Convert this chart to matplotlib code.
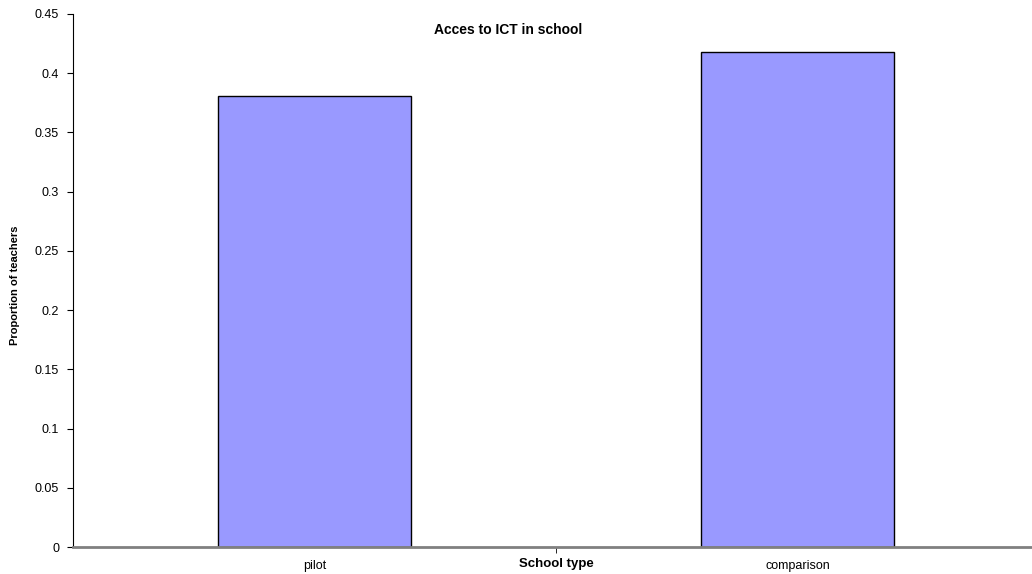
import numpy as np
import matplotlib.pyplot as plt

plt.rcParams['font.family'] = ['Liberation Sans', 'DejaVu Sans']

categories = ['pilot', 'comparison']
proportions = [0.381, 0.418]
yticks = [0, 0.05, 0.1, 0.15, 0.2, 0.25, 0.3, 0.35, 0.4, 0.45]
ytick_labels = ['0', '0.05', '0.1', '0.15', '0.2', '0.25', '0.3', '0.35', '0.4', '0.45']

fig = plt.figure(figsize=(10.32, 5.74), dpi=100)
ax = fig.add_axes([73/1032, 27/574, 966/1032, 533/574])

x = np.arange(len(categories))
ax.bar(x, proportions, width=0.4, color='#9999FF', edgecolor='black', linewidth=1)

ax.set_xlim(-0.5, 1.5)
ax.set_ylim(0, 0.45)
ax.set_yticks(yticks)
ax.set_yticklabels(ytick_labels, fontsize=9)
ax.set_xticks(x)
ax.set_xticklabels(categories, fontsize=9)
ax.set_xticks([0.5], minor=True)

ax.tick_params(axis='x', which='major', length=0, pad=9)
ax.tick_params(axis='x', which='minor', length=4, direction='out', color='black')
ax.tick_params(axis='y', length=4, direction='out', pad=6)

for side in ['top', 'right']:
    ax.spines[side].set_visible(False)
ax.spines['left'].set_color('black')
ax.spines['bottom'].set_color('#808080')
ax.spines['bottom'].set_linewidth(2)

fig.text(508/1032, 1 - 30/574, 'Acces to ICT in school', ha='center', va='center',
         fontsize=10, fontweight='bold')
fig.text(556/1032, 1 - 564/574, 'School type', ha='center', va='center',
         fontsize=9.5, fontweight='bold')
fig.text(15/1032, 1 - 285/574, 'Proportion of teachers', ha='center', va='center',
         rotation=90, fontsize=8, fontweight='bold')

fig.savefig('out.png', dpi=100)
